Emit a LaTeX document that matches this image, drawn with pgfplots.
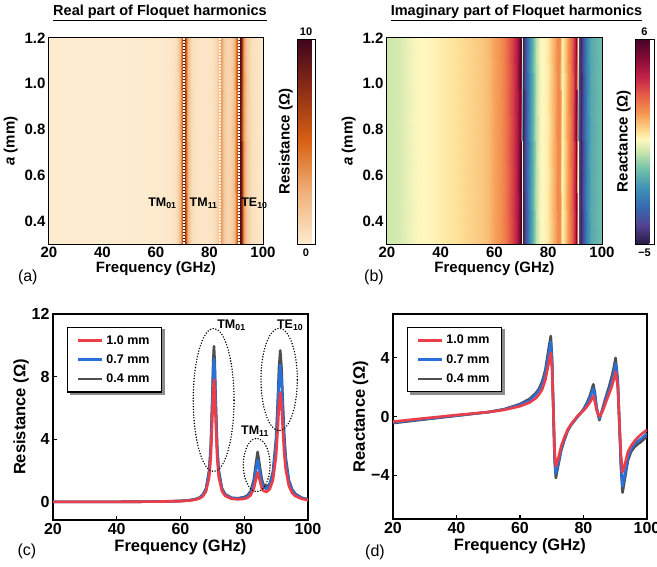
\documentclass[border=0pt]{standalone}
\usepackage{pgfplots}
\pgfplotsset{compat=1.18}
\usepackage{pgfplotstable}
\usepackage{fontspec}
\setmainfont{Liberation Sans}
\usetikzlibrary{backgrounds}

\definecolor{cRed}{RGB}{235,62,72}
\definecolor{cBlue}{RGB}{40,112,218}
\definecolor{cGray}{RGB}{78,78,78}

\pgfplotsset{
  colormap={floqR}{rgb255(0cm)=(253,236,208) rgb255(2.5cm)=(240,178,122) rgb255(5cm)=(216,98,20) rgb255(7.5cm)=(142,46,22) rgb255(10cm)=(62,5,28)},
  colormap={floqX}{rgb255(0cm)=(42,26,68) rgb255(1cm)=(82,66,142) rgb255(2cm)=(55,106,176) rgb255(3cm)=(62,146,180) rgb255(4cm)=(112,190,170) rgb255(5cm)=(205,232,172) rgb255(5.6cm)=(255,248,192) rgb255(6cm)=(254,226,152) rgb255(7cm)=(245,152,82) rgb255(8cm)=(230,92,70) rgb255(9cm)=(192,32,70) rgb255(10cm)=(132,10,55) rgb255(11cm)=(70,5,40)},
  base/.style={
    scale only axis, anchor=south west,
    axis line style={line width=1.2pt},
    tick align=inside, tick pos=left,
    major tick length=4pt,
    major tick style={line width=1.1pt, black},
    /pgf/number format/assume math mode=true,
    tick label style={font=\bfseries\fontsize{15}{15}\selectfont},
    label style={font=\bfseries\fontsize{15}{15}\selectfont},
    xmin=20, xmax=100, xtick={20,40,60,80,100},
    xlabel={Frequency (GHz)},
  },
  lineax/.style={
    base,
    tick label style={font=\bfseries\fontsize{16}{16}\selectfont},
    label style={font=\bfseries\fontsize{16.5}{16.5}\selectfont},
    ylabel shift=-4pt, xlabel shift=-2pt,
    legend cell align=left,
    reverse legend,
    legend style={at={(axis description cs:0.056,0.938)}, anchor=north west,
      draw=black, line width=1.1pt, fill=white,
      font=\bfseries\fontsize{12.5}{12.5}\selectfont,
      inner xsep=9pt, inner ysep=6pt, row sep=5pt,
      nodes={inner xsep=3pt}},
    legend image code/.code={\draw[#1, line width=2.6pt] (0pt,0pt) -- (24pt,0pt);},
  },
}

\pgfplotstableread{
f r04 r07 r10
20 0.01 0.01 0.01
30 0.01 0.01 0.01
40 0.01 0.01 0.01
50 0.02 0.02 0.02
55 0.04 0.03 0.03
60 0.07 0.06 0.05
63 0.12 0.11 0.09
65 0.20 0.19 0.16
66 0.29 0.27 0.23
67 0.47 0.43 0.36
68 0.85 0.78 0.67
69 2.02 1.85 1.58
69.5 3.60 3.31 2.83
70 6.87 6.31 5.41
70.25 8.95 8.23 7.05
70.5 9.94 9.14 7.83
70.75 8.95 8.23 7.05
71 6.87 6.32 5.41
71.5 3.61 3.32 2.84
72 2.03 1.86 1.59
73 0.88 0.81 0.69
74 0.50 0.46 0.39
76 0.27 0.25 0.20
78 0.24 0.21 0.17
80 0.31 0.27 0.20
81 0.42 0.36 0.27
82 0.68 0.58 0.42
83 1.41 1.18 0.85
83.5 2.20 1.84 1.30
84.2 3.20 2.68 1.89
85 2.11 1.77 1.27
85.5 1.45 1.23 0.89
86 1.12 0.96 0.71
87 0.94 0.83 0.64
88 1.17 1.05 0.82
89 1.92 1.74 1.38
90 4.10 3.71 2.96
90.5 6.37 5.76 4.60
90.9 8.55 7.74 6.18
91.3 9.67 8.76 6.99
91.7 8.55 7.74 6.18
92 6.90 6.24 4.99
92.5 4.44 4.03 3.21
93 2.88 2.61 2.08
94 1.40 1.27 1.02
95 0.81 0.73 0.58
96 0.53 0.48 0.38
98 0.27 0.25 0.20
100 0.17 0.15 0.12
}\resdata

\pgfplotstableread{
f x04 x07 x10
20 -0.45 -0.40 -0.35
30 -0.20 -0.17 -0.12
40 0.05 0.07 0.10
50 0.30 0.30 0.30
55 0.50 0.48 0.45
60 0.85 0.80 0.70
63 1.20 1.10 0.95
65 1.60 1.50 1.25
66 1.90 1.80 1.50
67 2.40 2.20 1.85
68 3.20 2.95 2.50
69 4.60 4.20 3.60
69.7 5.50 5.10 4.35
70.1 4.00 3.70 3.20
70.5 0.60 0.60 0.50
70.9 -3.00 -2.80 -2.40
71.3 -4.20 -3.90 -3.40
72 -3.40 -3.20 -2.90
73 -2.30 -2.20 -2.00
74 -1.60 -1.50 -1.40
75 -1.00 -0.95 -0.90
76 -0.60 -0.60 -0.55
78 -0.05 -0.05 0.00
80 0.50 0.45 0.40
81 0.90 0.80 0.65
82 1.40 1.25 0.95
83.1 2.20 1.90 1.40
83.6 1.60 1.40 1.00
84.2 0.50 0.50 0.35
85 -0.25 -0.15 0.00
86 0.55 0.45 0.35
87 1.30 1.10 0.95
88 2.00 1.75 1.50
89 2.80 2.50 2.10
89.6 3.40 3.05 2.60
90.1 4.00 3.60 3.05
90.8 2.50 2.30 2.00
91.3 -0.50 -0.40 -0.30
91.8 -3.50 -3.20 -2.60
92.3 -5.20 -4.75 -3.80
93 -4.30 -4.00 -3.30
94 -3.00 -2.80 -2.40
95 -2.40 -2.20 -2.00
96 -2.10 -1.90 -1.70
97 -1.90 -1.70 -1.45
98 -1.75 -1.55 -1.25
100 -1.35 -1.15 -0.90
}\reacdata

\begin{document}
\begin{tikzpicture}

% ---------------- (a) ----------------
\begin{axis}[base, at={(49pt,323pt)}, width=214pt, height=206pt,
  clip=false,
  ymin=0.3, ymax=1.2, ytick={0.4,0.6,0.8,1.0,1.2},
  yticklabel style={/pgf/number format/.cd, fixed, fixed zerofill, precision=1},
  ylabel={\textit{a} (mm)}, xlabel shift=-3pt,
  title={\underline{Real part of Floquet harmonics}},
  title style={font=\bfseries\fontsize{14.5}{14.5}\selectfont, at={(axis description cs:0.5,1)}, anchor=south, yshift=8pt, xshift=4pt},
  colormap name=floqR, point meta min=0, point meta max=10,
  colorbar,
  colorbar style={at={(parent axis.north east)}, anchor=north west, xshift=25.5pt, yshift=-1pt,
    scale only axis, width=18pt, height=205pt, ytick=\empty, xtick=\empty,
    axis line style={line width=0.9pt},
    extra description/.code={
      \node[font=\bfseries\fontsize{11}{11}\selectfont, anchor=south, inner sep=3pt] at (rel axis cs:0.5,1) {10};
      \node[font=\bfseries\fontsize{11}{11}\selectfont, anchor=north, inner sep=5pt] at (rel axis cs:0.5,0) {0};
      \node[font=\bfseries\fontsize{15}{15}\selectfont, rotate=90, anchor=south, inner sep=4pt] at (rel axis cs:0,0.5) {Resistance (Ω)};
    }},
]
\addplot[surf, shader=interp, mesh/rows=2, point meta=explicit] table[x=x, y=y, meta=z]{
x y z
20 0.3 0.01
40 0.3 0.01
50 0.3 0.02
55 0.3 0.04
60 0.3 0.07
63 0.3 0.12
65 0.3 0.20
66 0.3 0.29
67 0.3 0.47
68 0.3 0.85
69 0.3 2.02
69.5 0.3 3.60
70 0.3 6.87
70.25 0.3 8.95
70.5 0.3 9.94
70.75 0.3 8.95
71 0.3 6.87
71.5 0.3 3.61
72 0.3 2.03
73 0.3 0.88
74 0.3 0.50
76 0.3 0.27
78 0.3 0.24
80 0.3 0.31
81 0.3 0.42
82 0.3 0.68
83 0.3 1.41
83.5 0.3 2.20
84.2 0.3 3.20
85 0.3 2.11
85.5 0.3 1.45
86 0.3 1.12
87 0.3 0.94
88 0.3 1.17
89 0.3 1.92
90 0.3 4.10
90.5 0.3 6.37
90.9 0.3 8.55
91.3 0.3 9.67
91.7 0.3 8.55
92 0.3 6.90
92.5 0.3 4.44
93 0.3 2.88
94 0.3 1.40
95 0.3 0.81
96 0.3 0.53
98 0.3 0.27
100 0.3 0.17
20 1.2 0.01
40 1.2 0.01
50 1.2 0.02
55 1.2 0.04
60 1.2 0.07
63 1.2 0.12
65 1.2 0.20
66 1.2 0.29
67 1.2 0.47
68 1.2 0.85
69 1.2 2.02
69.5 1.2 3.60
70 1.2 6.87
70.25 1.2 8.95
70.5 1.2 9.94
70.75 1.2 8.95
71 1.2 6.87
71.5 1.2 3.61
72 1.2 2.03
73 1.2 0.88
74 1.2 0.50
76 1.2 0.27
78 1.2 0.24
80 1.2 0.31
81 1.2 0.42
82 1.2 0.68
83 1.2 1.41
83.5 1.2 2.20
84.2 1.2 3.20
85 1.2 2.11
85.5 1.2 1.45
86 1.2 1.12
87 1.2 0.94
88 1.2 1.17
89 1.2 1.92
90 1.2 4.10
90.5 1.2 6.37
90.9 1.2 8.55
91.3 1.2 9.67
91.7 1.2 8.55
92 1.2 6.90
92.5 1.2 4.44
93 1.2 2.88
94 1.2 1.40
95 1.2 0.81
96 1.2 0.53
98 1.2 0.27
100 1.2 0.17
};
\addplot[white, line width=1.4pt, dash pattern=on 1.5pt off 1.5pt] coordinates {(70.4,0.3) (70.4,1.2)};
\addplot[white, line width=1.4pt, dash pattern=on 1.5pt off 1.5pt, opacity=0.85] coordinates {(84.0,0.3) (84.0,1.2)};
\addplot[white, line width=1.4pt, dash pattern=on 1.5pt off 1.5pt] coordinates {(91.0,0.3) (91.0,1.2)};
\node[font=\bfseries\fontsize{12.5}{12.5}\selectfont] at (axis cs:62.4,0.48) {TM\textsubscript{01}};
\node[font=\bfseries\fontsize{12.5}{12.5}\selectfont] at (axis cs:77.8,0.48) {TM\textsubscript{11}};
\node[font=\bfseries\fontsize{12.5}{12.5}\selectfont] at (axis cs:96.8,0.48) {TE\textsubscript{10}};
\end{axis}

% ---------------- (b) ----------------
\begin{axis}[base, at={(387pt,323pt)}, width=215pt, height=206pt,
  ymin=0.3, ymax=1.2, ytick={0.4,0.6,0.8,1.0,1.2},
  yticklabel style={/pgf/number format/.cd, fixed, fixed zerofill, precision=1},
  ylabel={\textit{a} (mm)}, xlabel shift=-3pt,
  title={\underline{Imaginary part of Floquet harmonics}},
  title style={font=\bfseries\fontsize{14.5}{14.5}\selectfont, at={(axis description cs:0.5,1)}, anchor=south, yshift=8pt, xshift=22pt},
  colormap name=floqX, point meta min=-5, point meta max=6,
  colorbar,
  colorbar style={at={(parent axis.north east)}, anchor=north west, xshift=24.5pt, yshift=-1pt,
    scale only axis, width=19pt, height=205pt, ytick=\empty, xtick=\empty,
    axis line style={line width=0.9pt},
    extra description/.code={
      \node[font=\bfseries\fontsize{11}{11}\selectfont, anchor=south, inner sep=3pt] at (rel axis cs:0.5,1) {6};
      \node[font=\bfseries\fontsize{11}{11}\selectfont, anchor=north, inner sep=5pt] at (rel axis cs:0.5,0) {−5};
      \node[font=\bfseries\fontsize{15}{15}\selectfont, rotate=90, anchor=south, inner sep=4pt] at (rel axis cs:0,0.5) {Reactance (Ω)};
    }},
]
\addplot[surf, shader=interp, mesh/rows=2, point meta=explicit] table[x=x, y=y, meta=z]{
x y z
20 0.3 0.00
24 0.3 0.10
27 0.3 0.30
31 0.3 0.55
36 0.3 0.65
41 0.3 0.85
46 0.3 1.00
51 0.3 1.20
55 0.3 1.35
58 0.3 1.55
60 0.3 1.85
62 0.3 2.10
64 0.3 2.50
65.5 0.3 3.00
67 0.3 3.50
68.3 0.3 4.20
69.2 0.3 5.00
69.9 0.3 6.00
70.25 0.3 0.60
70.6 0.3 -4.70
71.3 0.3 -4.00
72.2 0.3 -3.00
73.2 0.3 -2.00
74.2 0.3 -1.20
75.5 0.3 -0.20
77 0.3 0.50
79.5 0.3 0.80
81 0.3 1.30
82.5 0.3 1.80
83.8 0.3 2.30
84.4 0.3 2.10
85.2 0.3 0.70
86.3 0.3 1.30
87.5 0.3 2.00
88.8 0.3 2.90
89.8 0.3 4.00
90.5 0.3 5.20
90.9 0.3 0.60
91.3 0.3 -4.00
92.2 0.3 -4.60
93.2 0.3 -3.30
94.5 0.3 -2.20
96 0.3 -1.50
98 0.3 -1.20
100 0.3 -1.00
20 1.2 0.00
24 1.2 0.10
27 1.2 0.30
31 1.2 0.55
36 1.2 0.65
41 1.2 0.85
46 1.2 1.00
51 1.2 1.20
55 1.2 1.35
58 1.2 1.55
60 1.2 1.85
62 1.2 2.10
64 1.2 2.50
65.5 1.2 3.00
67 1.2 3.50
68.3 1.2 4.20
69.2 1.2 5.00
69.9 1.2 6.00
70.25 1.2 0.60
70.6 1.2 -4.70
71.3 1.2 -4.00
72.2 1.2 -3.00
73.2 1.2 -2.00
74.2 1.2 -1.20
75.5 1.2 -0.20
77 1.2 0.50
79.5 1.2 0.80
81 1.2 1.30
82.5 1.2 1.80
83.8 1.2 2.30
84.4 1.2 2.10
85.2 1.2 0.70
86.3 1.2 1.30
87.5 1.2 2.00
88.8 1.2 2.90
89.8 1.2 4.00
90.5 1.2 5.20
90.9 1.2 0.60
91.3 1.2 -4.00
92.2 1.2 -4.60
93.2 1.2 -3.30
94.5 1.2 -2.20
96 1.2 -1.50
98 1.2 -1.20
100 1.2 -1.00
};
\end{axis}

% ---------------- (c) ----------------
\begin{axis}[lineax, at={(53pt,47pt)}, width=255pt, height=206pt,
  ymin=-1.15, ymax=12, ytick={0,4,8,12},
  ylabel={Resistance (Ω)},
  legend style={name=legC},
]
\addplot[cGray, line width=2.6pt, line join=round] table[x=f, y=r04]{\resdata};
\addplot[cBlue, line width=2.6pt, line join=round] table[x=f, y=r07]{\resdata};
\addplot[cRed, line width=2.6pt, line join=round] table[x=f, y=r10]{\resdata};
\legend{0.4 mm\hspace{7pt}, 0.7 mm\hspace{7pt}, 1.0 mm\hspace{7pt}}
\draw[black, line width=1.6pt, line cap=round, dash pattern=on 0pt off 2.8pt] (axis cs:70.4,6.51) ellipse [x radius=6.4, y radius=4.57];
\draw[black, line width=1.6pt, line cap=round, dash pattern=on 0pt off 2.8pt] (axis cs:90.95,7.82) ellipse [x radius=5.7, y radius=3.27];
\draw[black, line width=1.6pt, line cap=round, dash pattern=on 0pt off 2.8pt] (axis cs:83.9,2.36) ellipse [x radius=4.2, y radius=1.7];
\node[font=\bfseries\fontsize{12.5}{12.5}\selectfont] at (axis cs:76.0,11.3) {TM\textsubscript{01}};
\node[font=\bfseries\fontsize{12.5}{12.5}\selectfont] at (axis cs:94.4,11.3) {TE\textsubscript{10}};
\node[font=\bfseries\fontsize{12.5}{12.5}\selectfont] at (axis cs:83.4,4.5) {TM\textsubscript{11}};
\end{axis}
\begin{pgfonlayer}{background}
\fill[black!45] ([xshift=2.5pt,yshift=-2.5pt]legC.south west) rectangle ([xshift=2.5pt,yshift=-2.5pt]legC.north east);
\end{pgfonlayer}

% ---------------- (d) ----------------
\begin{axis}[lineax, at={(393pt,48pt)}, width=254pt, height=205pt,
  ymin=-7, ymax=7, ytick={-4,0,4}, yticklabels={−4,0,4},
  ylabel={Reactance (Ω)},
  legend style={name=legD},
]
\addplot[cGray, line width=2.6pt, line join=round] table[x=f, y=x04]{\reacdata};
\addplot[cBlue, line width=2.6pt, line join=round] table[x=f, y=x07]{\reacdata};
\addplot[cRed, line width=2.6pt, line join=round] table[x=f, y=x10]{\reacdata};
\legend{0.4 mm\hspace{7pt}, 0.7 mm\hspace{7pt}, 1.0 mm\hspace{7pt}}
\end{axis}
\begin{pgfonlayer}{background}
\fill[black!45] ([xshift=2.5pt,yshift=-2.5pt]legD.south west) rectangle ([xshift=2.5pt,yshift=-2.5pt]legD.north east);
\end{pgfonlayer}

\node[font=\fontsize{16}{16}\selectfont] at (27.8pt,289.5pt) {(a)};
\node[font=\fontsize{16}{16}\selectfont] at (374pt,289.5pt) {(b)};
\node[font=\fontsize{16}{16}\selectfont] at (27pt,15.5pt) {(c)};
\node[font=\fontsize{16}{16}\selectfont] at (375pt,14.5pt) {(d)};

\pgfresetboundingbox
\useasboundingbox (0pt,0pt) rectangle (657pt,567pt);
\end{tikzpicture}
\end{document}
